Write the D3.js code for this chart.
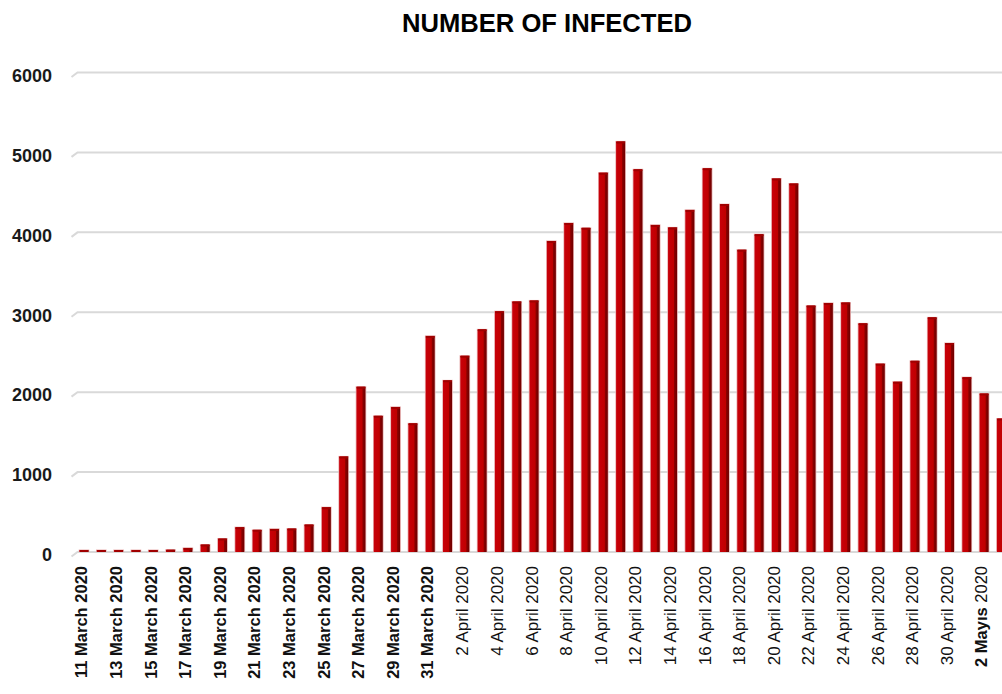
<!DOCTYPE html>
<html>
<head>
<meta charset="utf-8">
<script src="https://cdn.jsdelivr.net/npm/d3@7"></script>
<style>
  html, body { margin: 0; padding: 0; background: #ffffff; overflow: hidden; }
  svg { display: block; }
</style>
</head>
<body>
<svg id="chart" width="1002" height="694"></svg>
<script>
// ---- data ----
const title = "NUMBER OF INFECTED";
const categories = [
  "11 March 2020","12 March 2020","13 March 2020","14 March 2020","15 March 2020","16 March 2020",
  "17 March 2020","18 March 2020","19 March 2020","20 March 2020","21 March 2020","22 March 2020",
  "23 March 2020","24 March 2020","25 March 2020","26 March 2020","27 March 2020","28 March 2020",
  "29 March 2020","30 March 2020","31 March 2020",
  "1 April 2020","2 April 2020","3 April 2020","4 April 2020","5 April 2020","6 April 2020",
  "7 April 2020","8 April 2020","9 April 2020","10 April 2020","11 April 2020","12 April 2020",
  "13 April 2020","14 April 2020","15 April 2020","16 April 2020","17 April 2020","18 April 2020",
  "19 April 2020","20 April 2020","21 April 2020","22 April 2020","23 April 2020","24 April 2020",
  "25 April 2020","26 April 2020","27 April 2020","28 April 2020","29 April 2020","30 April 2020",
  "1 Mayıs 2020","2 Mayıs 2020","3 Mayıs 2020"
];
const infected = [
  1, 0, 4, 1, 12, 29, 51, 93, 168, 311,
  277, 289, 293, 343, 561, 1196, 2069, 1704, 1815, 1610,
  2704,
  2148, 2456, 2786, 3013, 3135, 3148, 3892, 4117, 4056, 4747,
  5138, 4789, 4093, 4062, 4281, 4801, 4353, 3783, 3977, 4674,
  4611, 3083, 3116, 3122, 2861, 2357, 2131, 2392, 2936, 2615,
  2188, 1983, 1670
];
const yTicks = [0, 1000, 2000, 3000, 4000, 5000, 6000];
const xTickLabels = categories.filter((d, i) => i % 2 === 0);

// ---- layout ----
const svg = d3.select("#chart");
const step = 17.31;
const firstCenter = 84;
const baseY = 552;
const topY = 72.5;

const x = d3.scaleBand()
  .domain(categories)
  .range([firstCenter - step / 2, firstCenter - step / 2 + step * categories.length])
  .paddingInner(0.48)
  .paddingOuter(0.24);

const y = d3.scaleLinear().domain([0, 6000]).range([baseY, topY]);

// title
svg.append("text")
  .attr("x", 547).attr("y", 32)
  .attr("text-anchor", "middle")
  .attr("font-family", "Liberation Sans, Arial, sans-serif")
  .attr("font-weight", "bold")
  .attr("font-size", 26)
  .attr("textLength", 290)
  .attr("lengthAdjust", "spacingAndGlyphs")
  .attr("fill", "#000")
  .text(title);

// gridlines with slanted 3D floor edge
const grid = svg.append("g");
yTicks.forEach(t => {
  const gy = y(t);
  grid.append("path")
    .attr("d", `M71.5,${gy + 4.5} L77.5,${gy} L1002,${gy}`)
    .attr("fill", "none")
    .attr("stroke", "#d9d9d9")
    .attr("stroke-width", 2);
});

// y axis labels
const yAxis = d3.axisLeft(y).tickValues(yTicks).tickFormat(d3.format("d")).tickSize(0).tickPadding(0);
const yg = svg.append("g").attr("transform", "translate(52,3)").call(yAxis);
yg.select(".domain").remove();
yg.selectAll("text")
  .attr("font-family", "Liberation Sans, Arial, sans-serif")
  .attr("font-weight", "bold")
  .attr("font-size", 18)
  .attr("fill", "#1a1a1a");

// bars
const defs = svg.append("defs");
const grad = defs.append("linearGradient").attr("id", "barGrad")
  .attr("x1", "0").attr("x2", "1").attr("y1", "0").attr("y2", "0");
grad.append("stop").attr("offset", "0").attr("stop-color", "#c8000a");
grad.append("stop").attr("offset", "0.62").attr("stop-color", "#c00000");
grad.append("stop").attr("offset", "0.72").attr("stop-color", "#8a0000");
grad.append("stop").attr("offset", "1").attr("stop-color", "#6e0000");

const bars = svg.append("g");
const bw = x.bandwidth();
categories.forEach((c, i) => {
  const v = infected[i];
  const x0 = x(c);
  const yt = Math.min(y(v), baseY - 2);
  bars.append("rect")
    .attr("x", x0 - 0.8).attr("y", yt - 0.5)
    .attr("width", bw + 1.6).attr("height", baseY - yt + 0.5)
    .attr("fill", "#e9b3b3");
  bars.append("rect")
    .attr("x", x0).attr("y", yt)
    .attr("width", bw).attr("height", baseY - yt)
    .attr("fill", "url(#barGrad)");
  bars.append("rect")
    .attr("x", x0).attr("y", yt)
    .attr("width", bw).attr("height", 2)
    .attr("rx", 1)
    .attr("fill", "#a00000");
});

// x axis labels (rotated)
const xAxis = d3.axisBottom(x)
  .tickValues(xTickLabels)
  .tickSize(0);
const xg = svg.append("g").attr("transform", `translate(-2.5,${baseY})`).call(xAxis);
xg.select(".domain").remove();
xg.selectAll(".tick text")
  .attr("transform", "rotate(-90)")
  .attr("x", -14)
  .attr("y", 0)
  .attr("dy", "0.35em")
  .attr("text-anchor", "end")
  .attr("font-family", "Liberation Sans, Arial, sans-serif")
  .attr("fill", "#111")
  .each(function(d) {
    const t = d3.select(this);
    if (d.indexOf("March") >= 0) {
      t.attr("font-weight", "bold").attr("font-size", 16.5);
    } else if (d.indexOf("Mayıs") >= 0) {
      const parts = d.split(" ");
      t.text(null).attr("font-size", 16.5);
      t.append("tspan").attr("font-weight", "bold").text(parts[0] + " " + parts[1] + " ");
      t.append("tspan").attr("font-weight", "normal").text(parts[2]);
    } else {
      t.attr("font-weight", "normal").attr("font-size", 17);
    }
  });
</script>
</body>
</html>
